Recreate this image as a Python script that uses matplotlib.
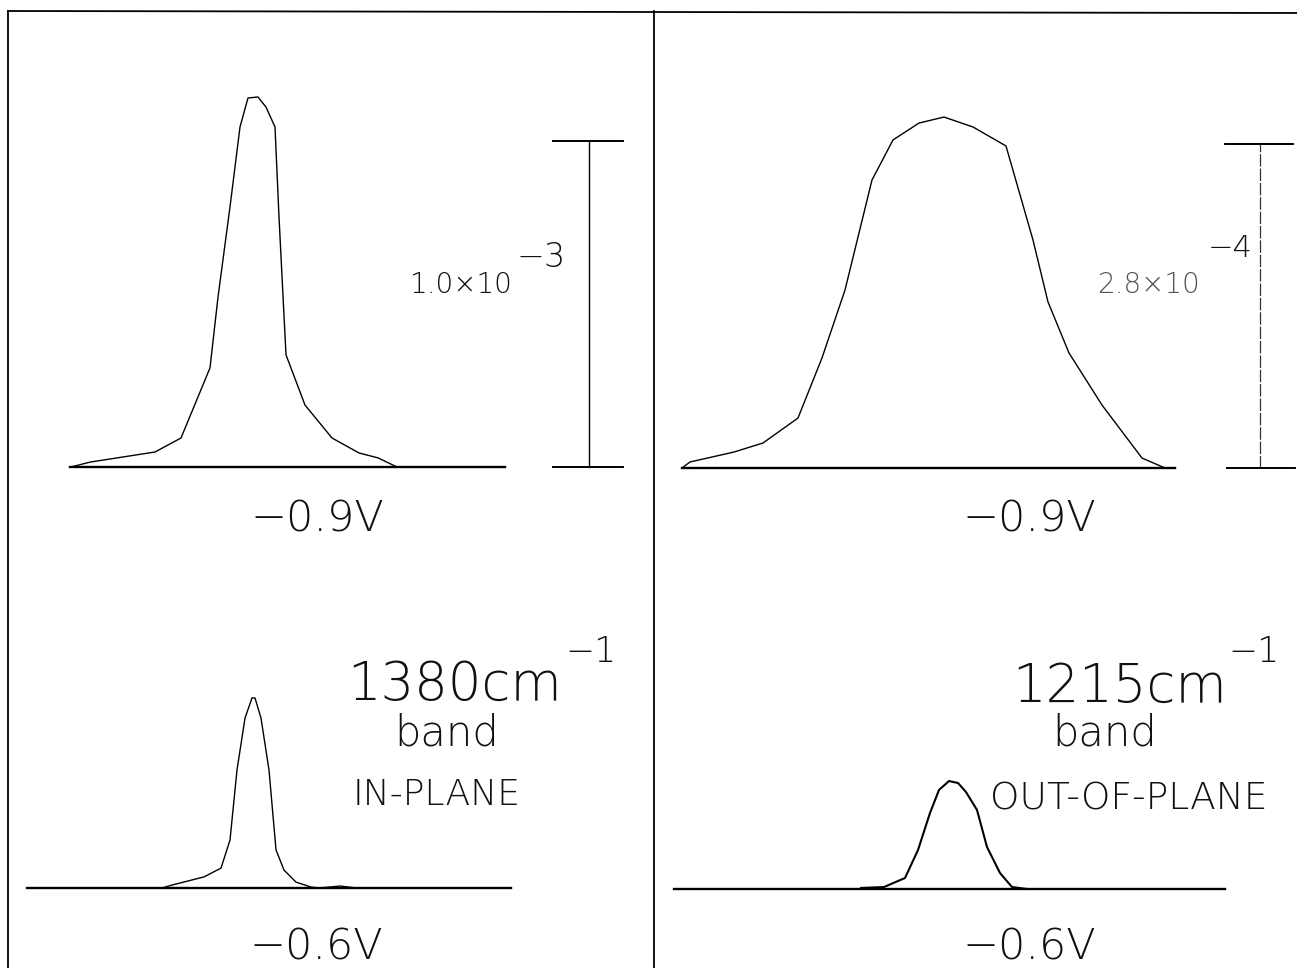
import matplotlib
matplotlib.use("Agg")
import matplotlib.pyplot as plt

plt.rcParams['font.family'] = ['DejaVu Sans']
plt.rcParams['font.weight'] = 'light'

# spectra: x in panel-local position units, y in absorbance units
# in-plane 1380 cm-1 band (y in units of 1e-3)
inplane_09_x = [63, 82, 147, 173, 202, 210, 222, 232, 240, 250, 258, 267, 271, 278, 297, 324, 351, 370, 389]
inplane_09_y = [0, 0.015, 0.046, 0.089, 0.304, 0.521, 0.798, 1.043, 1.132, 1.135, 1.104, 1.043,
                0.767, 0.344, 0.190, 0.089, 0.043, 0.028, 0]
inplane_06_x = [154, 164, 196, 213, 222, 229, 237, 244, 247, 253, 261, 268, 276, 288, 303, 311, 332, 349]
inplane_06_y = [0, 0.009, 0.034, 0.061, 0.147, 0.362, 0.521, 0.583, 0.583, 0.521, 0.362, 0.117,
                0.055, 0.018, 0.003, 0, 0.006, 0]

# out-of-plane 1215 cm-1 band (y in units of 1e-4)
outplane_09_x = [29, 37, 81, 110, 145, 169, 192, 219, 240, 266, 291, 320, 353, 380, 395, 416, 449, 489, 512]
outplane_09_y = [0, 0.052, 0.138, 0.216, 0.432, 0.951, 1.538, 2.489, 2.835, 2.981, 3.033, 2.947,
                 2.783, 1.970, 1.435, 0.994, 0.544, 0.086, 0]
outplane_06_x = [208, 231, 252, 265, 277, 286, 296, 305, 313, 324, 334, 347, 359, 374]
outplane_06_y = [0.009, 0.017, 0.095, 0.337, 0.657, 0.856, 0.933, 0.916, 0.838, 0.683, 0.363,
                 0.138, 0.017, 0]

scale_inplane = 1.0    # x 1e-3
scale_outplane = 2.8   # x 1e-4

W, H = 1297, 968
fig = plt.figure(figsize=(W / 100, H / 100), dpi=100)
fig.patch.set_facecolor("white")


def panel(x0, x1, y0, y1, base_px, px_per_unit):
    # axes placed by pixel box (top-left origin), y=0 sits on base_px
    ax = fig.add_axes([x0 / W, 1 - y1 / H, (x1 - x0) / W, (y1 - y0) / H])
    ax.set_xlim(0, x1 - x0)
    ax.set_ylim(-(y1 - base_px) / px_per_unit, (base_px - y0) / px_per_unit)
    ax.axis("off")
    return ax


def ftext(x, y, s, size, **kw):
    kw.setdefault("color", "#111111")
    fig.text(x / W, 1 - y / H, s, fontsize=size, fontweight="light", **kw)


lw_curve = 1.0
lw_base = 1.7

# top-left: in-plane, -0.9 V
ax = panel(8, 653, 40, 480, 467, 326.0)
ax.plot(inplane_09_x, inplane_09_y, color="black", lw=lw_curve)
ax.plot([62, 497], [0, 0], color="black", lw=lw_base)
ax.plot([581, 581], [0, scale_inplane], color="black", lw=1.0)
ax.plot([545, 615], [0, 0], color="black", lw=1.4)
ax.plot([545, 615], [scale_inplane, scale_inplane], color="black", lw=1.4)

# top-right: out-of-plane, -0.9 V
ax = panel(653, 1297, 40, 480, 468, 324.0 / scale_outplane)
ax.plot(outplane_09_x, outplane_09_y, color="black", lw=lw_curve)
ax.plot([29, 522], [0, 0], color="black", lw=lw_base)
ax.plot([607, 607], [0, scale_outplane], color="#333333", lw=0.9, ls=(0, (10, 1.5)))
ax.plot([574, 642], [0, 0], color="black", lw=1.4)
ax.plot([572, 640], [scale_outplane, scale_outplane], color="black", lw=1.4)

# bottom-left: in-plane, -0.6 V
ax = panel(8, 653, 600, 905, 888, 326.0)
ax.plot(inplane_06_x, inplane_06_y, color="black", lw=lw_curve)
ax.plot([19, 503], [0, 0], color="black", lw=lw_base)

# bottom-right: out-of-plane, -0.6 V
ax = panel(653, 1297, 600, 905, 889, 324.0 / scale_outplane)
ax.plot(outplane_06_x, outplane_06_y, color="black", lw=1.5)
ax.plot([21, 572], [0, 0], color="black", lw=lw_base)

# frame lines
frame = fig.add_axes([0, 0, 1, 1], zorder=-1)
frame.set_xlim(0, W)
frame.set_ylim(H, 0)
frame.axis("off")
frame.plot([8, 1297], [11, 13], color="black", lw=1.3)
frame.plot([8, 8], [11, H], color="black", lw=1.3)
frame.plot([654, 654], [11, H], color="black", lw=1.3)

# labels
ftext(317, 532, "\u22120.9V", 31, ha="center", va="baseline")
ftext(1029, 532, "\u22120.9V", 31, ha="center", va="baseline")
ftext(316, 960, "\u22120.6V", 31, ha="center", va="baseline")
ftext(1029, 960, "\u22120.6V", 31, ha="center", va="baseline")

ftext(410, 293, "1.0\u00d710", 20, ha="left", va="baseline")
ftext(516, 267, "\u22123", 24, ha="left", va="baseline")
ftext(1097, 293, "2.8\u00d710", 20, ha="left", va="baseline", color="#555555")
ftext(1208, 257, "\u22124", 22, ha="left", va="baseline")

ftext(347, 700, "1380cm", 38, ha="left", va="baseline")
ftext(565, 662, "\u22121", 25, ha="left", va="baseline")
ftext(447, 745, "band", 30, ha="center", va="baseline")
ftext(353, 805, "IN-PLANE", 26, ha="left", va="baseline")

ftext(1012, 702, "1215cm", 38, ha="left", va="baseline")
ftext(1228, 662, "\u22121", 25, ha="left", va="baseline")
ftext(1105, 745, "band", 30, ha="center", va="baseline")
ftext(990, 810, "OUT-OF-PLANE", 27, ha="left", va="baseline")

fig.savefig("out.png", dpi=100)
